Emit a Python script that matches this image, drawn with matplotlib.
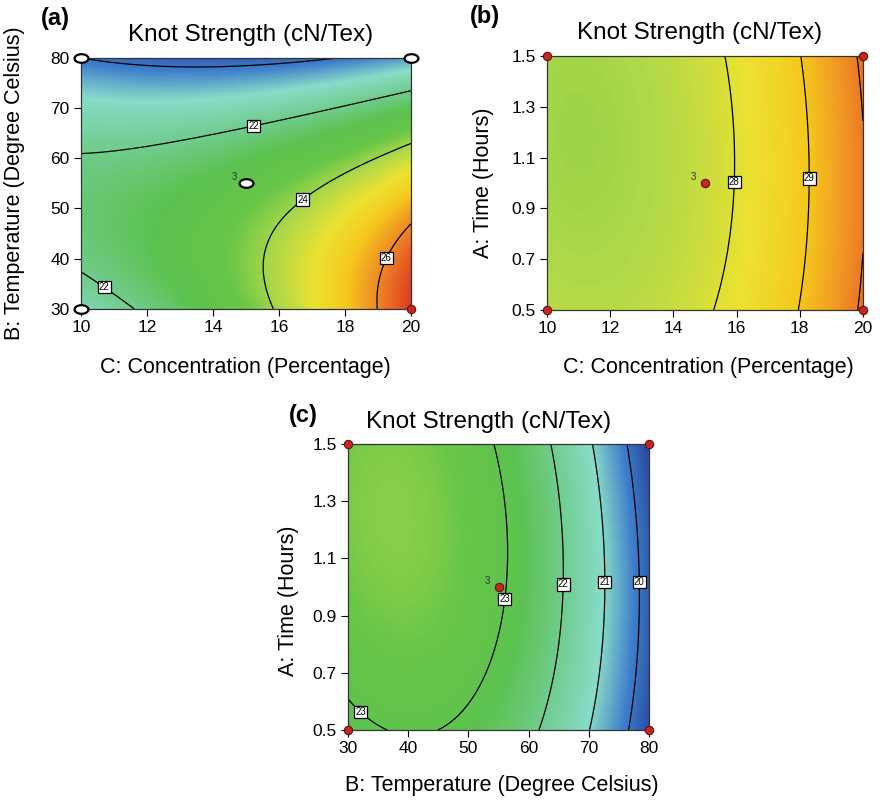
import numpy as np
import matplotlib
matplotlib.use('Agg')
import matplotlib.pyplot as plt
from matplotlib.colors import LinearSegmentedColormap, Normalize
from matplotlib.path import Path

plt.rcParams['font.family'] = ['Liberation Sans', 'DejaVu Sans']

# quadratic response models in coded units: [b0, x, y, xy, x^2, y^2]
coef_a = [23.158, 1.445, -1.931, -1.206, 0.544, -1.543]   # x = C, y = B
coef_b = [27.716, 1.371, -0.061, 0.070, 0.873, 0.149]     # x = C, y = A
coef_c = [23.101, -1.931, 0.187, -0.244, -1.477, -0.354]  # x = B, y = A

# factor ranges
conc_range = [10, 20]
temp_range = [30, 80]
time_range = [0.5, 1.5]

levels_a = [20, 22, 24, 26]
levels_b = [28, 29, 30]
levels_c = [20, 21, 22, 23]

# where the contour value boxes sit
labels_a = [(15.2, 67.3), (10.74, 34.6), (16.67, 52.2), (19.21, 40.2)]
labels_b = [(15.98, 1.005), (18.3, 1.018)]
labels_c = [(56.25, 0.957), (65.9, 1.009), (72.7, 1.018), (78.4, 1.018), (32.4, 0.57)]

# design points: (x, y, white?)
pts_a = [(10, 30, True), (10, 80, True), (20, 80, True), (20, 30, False), (15, 55, True)]
pts_b = [(10, 0.5, False), (10, 1.5, False), (20, 0.5, False), (20, 1.5, False), (15, 1.0, False)]
pts_c = [(30, 0.5, False), (30, 1.5, False), (80, 0.5, False), (80, 1.5, False), (55, 1.0, False)]
center_runs = 3

cmap = LinearSegmentedColormap.from_list('de', [
    (0.00, '#2a4ea6'), (0.10, '#3f7fcc'), (0.22, '#88dcc8'), (0.35, '#70cc8c'),
    (0.45, '#5cc250'), (0.55, '#68c648'), (0.63, '#acd84a'), (0.72, '#ece232'),
    (0.80, '#f5c81e'), (0.88, '#ef8a26'), (1.00, '#dc2c22')])

oval = Path.unit_circle()
oval = Path(oval.vertices * [1.0, 0.62], oval.codes)


def surface(coef, xr, yr, n=300):
    xs = np.linspace(xr[0], xr[1], n)
    ys = np.linspace(yr[0], yr[1], n)
    X, Y = np.meshgrid(xs, ys)
    u = (X - np.mean(xr)) / (np.ptp(xr) / 2)
    v = (Y - np.mean(yr)) / (np.ptp(yr) / 2)
    Z = coef[0] + coef[1]*u + coef[2]*v + coef[3]*u*v + coef[4]*u*u + coef[5]*v*v
    return X, Y, Z


def panel(rect, coef, xr, yr, norm, levels, lab_pos, pts, xticks, yticks, yfmt):
    ax = fig.add_axes(rect)
    X, Y, Z = surface(coef, xr, yr)
    ax.imshow(Z, extent=[xr[0], xr[1], yr[0], yr[1]], origin='lower', aspect='auto',
              cmap=cmap, norm=norm, interpolation='bilinear')
    cs = ax.contour(X, Y, Z, levels=levels, colors='black', linewidths=0.9)
    txts = ax.clabel(cs, inline=False, fmt='%d', fontsize=7, manual=lab_pos)
    for t in txts:
        t.set_rotation(0)
        t.set_bbox(dict(boxstyle='square,pad=0.12', fc='white', ec='black', lw=0.9))
        t.set_zorder(5)
    for x, y, white in pts:
        if white:
            ax.plot(x, y, marker=oval, ms=10, mfc='white', mec='black', mew=1.6,
                    clip_on=False, zorder=6)
        else:
            ax.plot(x, y, marker='o', ms=6, mfc='#c8261e', mec='#5a1410', mew=0.8,
                    clip_on=False, zorder=6)
    cx, cy, _ = pts[-1]
    ax.annotate(str(center_runs), (cx, cy), xytext=(-8, 1), textcoords='offset points',
                fontsize=7, color='#303030', ha='center', va='bottom')
    ax.set_xlim(xr)
    ax.set_ylim(yr)
    ax.set_xticks(xticks)
    ax.set_yticks(yticks)
    ax.set_yticklabels([yfmt % v for v in yticks])
    ax.tick_params(direction='out', length=5, width=0.8, labelsize=12.5, pad=3)
    for s in ax.spines.values():
        s.set_linewidth(0.9)
        s.set_color('#333333')
    return ax


fig = plt.figure(figsize=(8.8, 8), dpi=100)

norm_ac = Normalize(19.4, 26.9)
norm_b = Normalize(21.0, 31.0)

panel([0.092, 0.614, 0.375, 0.314], coef_a, conc_range, temp_range, norm_ac, levels_a,
      labels_a, pts_a, range(10, 21, 2), range(30, 81, 10), '%d')
panel([0.6216, 0.6125, 0.359, 0.3175], coef_b, conc_range, time_range, norm_b, levels_b,
      labels_b, pts_b, range(10, 21, 2), [0.5, 0.7, 0.9, 1.1, 1.3, 1.5], '%.1f')
panel([0.3955, 0.0875, 0.342, 0.3575], coef_c, temp_range, time_range, norm_ac, levels_c,
      labels_c, pts_c, range(30, 81, 10), [0.5, 0.7, 0.9, 1.1, 1.3, 1.5], '%.1f')

W, H = 880.0, 800.0


def ftext(x, y, s, **kw):
    fig.text(x / W, 1 - y / H, s, ha='center', va='center', **kw)


title = 'Knot Strength (cN/Tex)'
ftext(251, 35, title, fontsize=17.5)
ftext(700, 33, title, fontsize=17.5)
ftext(489, 422, title, fontsize=17.5)

ftext(55, 19, '(a)', fontsize=17, fontweight='bold')
ftext(485, 17, '(b)', fontsize=17, fontweight='bold')
ftext(303, 415, '(c)', fontsize=17, fontweight='bold')

ftext(245, 367, 'C: Concentration (Percentage)', fontsize=15.5)
ftext(708, 367, 'C: Concentration (Percentage)', fontsize=15.5)
ftext(502, 785, 'B: Temperature (Degree Celsius)', fontsize=15.5)

ftext(15, 183, 'B: Temperature (Degree Celsius)', fontsize=15.5, rotation=90)
ftext(483, 183, 'A: Time (Hours)', fontsize=15.5, rotation=90)
ftext(288, 601, 'A: Time (Hours)', fontsize=15.5, rotation=90)

fig.savefig('out.png', dpi=100)
